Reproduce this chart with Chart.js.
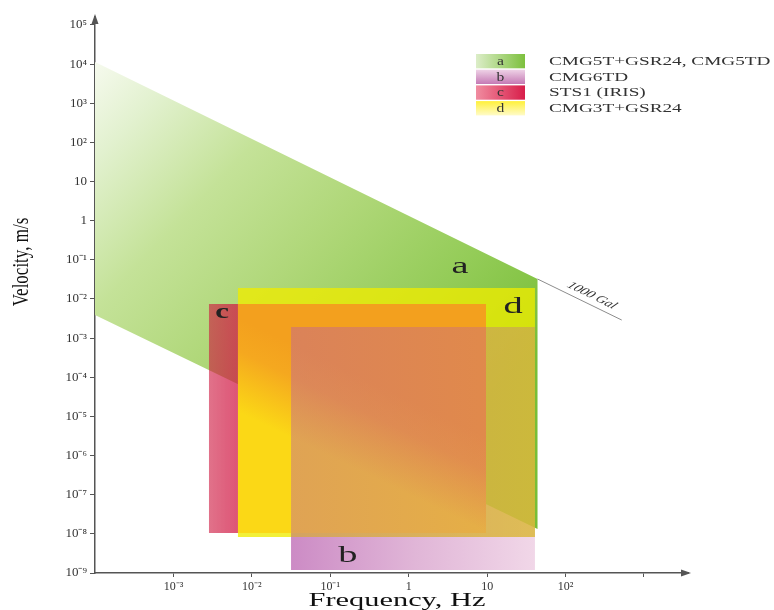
<!DOCTYPE html>
<html>
<head>
<meta charset="utf-8">
<script src="https://cdn.jsdelivr.net/npm/chart.js@4.4.1/dist/chart.umd.min.js"></script>
<style>
  html, body { margin: 0; padding: 0; background: #fff; }
</style>
</head>
<body>
<canvas id="chart" width="774" height="610"></canvas>
<script>
// Axis ticks
var xTicks = [1e-3, 1e-2, 1e-1, 1, 10, 100, 1000];
var xTickLabels = ['10⁻³', '10⁻²', '10⁻¹', '1', '10', '10²', ''];
var yTicks = [1e-9, 1e-8, 1e-7, 1e-6, 1e-5, 1e-4, 1e-3, 1e-2, 1e-1, 1, 10, 100, 1e3, 1e4, 1e5];
var yTickLabels = ['10⁻⁹', '10⁻⁸', '10⁻⁷', '10⁻⁶', '10⁻⁵', '10⁻⁴', '10⁻³', '10⁻²', '10⁻¹', '1', '10', '10²', '10³', '10⁴', '10⁵'];

// a: CMG5T+GSR24 band (corners: top-left, top-right, bottom-right, bottom-left)
var aFreq = [1e-4, 43.9, 43.9, 1e-4];
var aVel = [1.13e4, 0.0324, 1.33e-8, 3.9e-3];

// b, c, d: frequency range (Hz) and velocity range (m/s)
var bFreq = [0.0316, 40.7];
var bVel = [1.19e-9, 1.92e-3];
var cFreq = [2.84e-3, 9.67];
var cVel = [1.05e-8, 7.4e-3];
var dFreq = [6.65e-3, 40.7];
var dVel = [8.3e-9, 0.019];

// 1000 Gal line
var galFreq = [43.9, 520];
var galVel = [0.0324, 0.0029];

// letters on the plot
var letterText = ['a', 'b', 'c', 'd'];
var letterFreq = [4.5, 0.168, 4.16e-3, 21.4];
var letterVel = [0.046, 1.9e-9, 3.27e-3, 4.4e-3];

// legend
var legendLetters = ['a', 'b', 'c', 'd'];
var legendNames = ['CMG5T+GSR24, CMG5TD', 'CMG6TD', 'STS1 (IRIS)', 'CMG3T+GSR24'];

var SERIF = "'Liberation Serif', 'Times New Roman', serif";

function corners(fs, vs) {
  return fs.map(function (f, i) { return { x: f, y: vs[i] }; });
}
function rect(f, v) {
  return corners([f[0], f[1], f[1], f[0]], [v[1], v[1], v[0], v[0]]);
}
function overlap(p, q) {
  return [Math.max(p[0], q[0]), Math.min(p[1], q[1])];
}
function px(chart, f) { return chart.scales.x.getPixelForValue(f); }
function py(chart, v) { return chart.scales.y.getPixelForValue(v); }
function grad(c, x0, y0, x1, y1, stops) {
  var g = c.createLinearGradient(x0, y0, x1, y1);
  stops.forEach(function (s) { g.addColorStop(s[0], s[1]); });
  return g;
}

var cdFreq = overlap(cFreq, dFreq);
var cdVel = overlap(cVel, dVel);
var bdFreq = overlap(bFreq, dFreq);
var bdVel = overlap(bVel, dVel);

function area(data, order, color) {
  return {
    data: data, order: order, fill: 'shape', tension: 0,
    borderWidth: 0, borderColor: 'rgba(0,0,0,0)',
    pointRadius: 0, pointHoverRadius: 0,
    backgroundColor: function (ctx) {
      var ch = ctx.chart;
      if (!ch.chartArea) return 'rgba(0,0,0,0)';
      return color(ch, ch.ctx);
    }
  };
}

var datasets = [
  area(rect(bFreq, bVel), 7, function (ch, c) {
    return grad(c, px(ch, bFreq[0]), 0, px(ch, bFreq[1]), 0,
      [[0, '#cc8bc5'], [0.5, '#e0b5d7'], [1, '#f1d7e8']]);
  }),
  area(corners(aFreq, aVel), 6, function (ch, c) {
    var x0 = px(ch, aFreq[0]), y0 = py(ch, aVel[0]);
    var x1 = px(ch, aFreq[1]), y3 = py(ch, aVel[3]);
    return grad(c, x0, y0, x0 + 0.848 * (x1 - x0), y0 + 1.42 * (y3 - y0),
      [[0, '#f6faee'], [0.13, '#e2f1cf'], [0.33, '#c4e298'], [0.55, '#afd778'],
       [0.78, '#94cc58'], [1, '#78be37']]);
  }),
  area(rect(cFreq, cVel), 5, function (ch, c) {
    return grad(c, px(ch, cFreq[0]), 0, px(ch, dFreq[0]), 0,
      [[0, 'rgba(205,20,60,0.6)'], [1, 'rgba(210,25,70,0.74)']]);
  }),
  area(rect(dFreq, dVel), 4, function (ch, c) {
    return 'rgba(238,236,0,0.78)';
  }),
  area(rect(cdFreq, cdVel), 3, function (ch, c) {
    // orange above the lower edge of band a, yellow below it
    var x0 = px(ch, aFreq[3]), y0 = py(ch, aVel[3]);
    var x1 = px(ch, aFreq[2]), y1 = py(ch, aVel[2]);
    var len = Math.hypot(x1 - x0, y1 - y0);
    var nx = -(y1 - y0) / len, ny = (x1 - x0) / len;
    var mx = px(ch, cdFreq[0]), my = y0 + (mx - x0) * (y1 - y0) / (x1 - x0);
    return grad(c, mx - 60 * nx, my - 60 * ny, mx + 25 * nx, my + 25 * ny,
      [[0, '#f3a01e'], [0.35, '#f5a81f'], [1, '#fbd816']]);
  }),
  area(rect(bdFreq, bdVel), 2, function (ch, c) {
    return grad(c, px(ch, bdFreq[0]), 0, px(ch, bdFreq[1]), 0,
      [[0, 'rgba(185,90,170,0.42)'], [1, 'rgba(185,90,170,0.3)']]);
  }),
  {
    data: corners(galFreq, galVel), order: 1, fill: false, tension: 0,
    borderColor: '#8c8c8c', borderWidth: 1, pointRadius: 0, pointHoverRadius: 0
  }
];

function stretched(c, text, x, y, sx, align) {
  c.save();
  c.translate(x, y);
  c.scale(sx, 1);
  c.textAlign = align;
  c.fillText(text, 0, 0);
  c.restore();
}

var decor = {
  id: 'decor',
  afterDraw: function (chart) {
    var c = chart.ctx;
    var ca = chart.chartArea;
    c.save();

    // axis arrows
    c.fillStyle = '#555';
    c.beginPath();
    c.moveTo(ca.left, ca.top - 3);
    c.lineTo(ca.left - 3.5, ca.top + 7);
    c.lineTo(ca.left + 3.5, ca.top + 7);
    c.closePath();
    c.fill();
    c.beginPath();
    c.moveTo(ca.right + 3, ca.bottom);
    c.lineTo(ca.right - 7, ca.bottom - 3.5);
    c.lineTo(ca.right - 7, ca.bottom + 3.5);
    c.closePath();
    c.fill();

    // letters a-d
    c.fillStyle = '#222';
    c.textBaseline = 'alphabetic';
    letterText.forEach(function (t, i) {
      c.font = (t === 'c' ? 'bold 22px ' : '24px ') + SERIF;
      stretched(c, t, px(chart, letterFreq[i]), py(chart, letterVel[i]), t === 'c' ? 1.4 : 1.6, 'center');
    });

    // 1000 Gal label
    var gx0 = px(chart, galFreq[0]), gy0 = py(chart, galVel[0]);
    var gx1 = px(chart, galFreq[1]), gy1 = py(chart, galVel[1]);
    var gl = Math.hypot(gx1 - gx0, gy1 - gy0);
    var ux = (gx1 - gx0) / gl, uy = (gy1 - gy0) / gl;
    var tx = gx0 + 0.6 * (gx1 - gx0) + 9 * uy;
    var ty = gy0 + 0.6 * (gy1 - gy0) - 9 * ux;
    c.save();
    c.translate(tx, ty);
    c.scale(1.45, 1);
    c.rotate(Math.atan2(gy1 - gy0, (gx1 - gx0) / 1.45));
    c.font = 'italic 10.5px ' + SERIF;
    c.fillStyle = '#333';
    c.textAlign = 'center';
    c.textBaseline = 'middle';
    c.fillText('1000 Gal', 0, 0);
    c.restore();

    // legend
    var boxFills = [
      function (x, y, w, h) { return grad(c, x, 0, x + w, 0, [[0, '#dcedc8'], [1, '#7dc03e']]); },
      function (x, y, w, h) { return grad(c, 0, y, 0, y + h, [[0, '#eed2e6'], [1, '#c57ab5']]); },
      function (x, y, w, h) { return grad(c, x, 0, x + w, 0, [[0, '#f08ca0'], [1, '#d81e4a']]); },
      function (x, y, w, h) { return grad(c, 0, y, 0, y + h, [[0, '#fff03a'], [1, '#fffbc8']]); }
    ];
    var lx = 476, ly = 54, lw = 49, lh = 14.3, step = 15.7;
    legendLetters.forEach(function (t, i) {
      var y = ly + i * step;
      c.fillStyle = boxFills[i](lx, y, lw, lh);
      c.fillRect(lx, y, lw, lh);
      c.fillStyle = '#333';
      c.textBaseline = 'middle';
      c.font = '12px ' + SERIF;
      stretched(c, t, lx + lw / 2, y + lh / 2 + 0.5, 1.3, 'center');
      c.font = '13px ' + SERIF;
      stretched(c, legendNames[i], 549, y + lh / 2 + 0.5, 1.48, 'left');
    });

    // axis titles
    c.fillStyle = '#111';
    c.font = '19px ' + SERIF;
    c.textBaseline = 'alphabetic';
    stretched(c, 'Frequency, Hz', 397, 606, 1.6, 'center');

    c.save();
    c.translate(22, 262);
    c.scale(1.4, 1);
    c.rotate(-Math.PI / 2);
    c.font = '17px ' + SERIF;
    c.textAlign = 'center';
    c.textBaseline = 'middle';
    c.fillText('Velocity, m/s', 0, 0);
    c.restore();

    c.restore();
  }
};

var ctx = document.getElementById('chart').getContext('2d');

var myChart = new Chart(ctx, {
  type: 'line',
  data: { datasets: datasets },
  options: {
    responsive: false,
    animation: false,
    events: [],
    layout: { padding: { left: 0, top: 17, right: 86, bottom: 0 } },
    plugins: {
      legend: { display: false },
      tooltip: { enabled: false }
    },
    scales: {
      x: {
        type: 'logarithmic',
        min: 1e-4,
        max: 3640,
        bounds: 'data',
        afterBuildTicks: function (scale) {
          scale.ticks = xTicks.map(function (v) { return { value: v }; });
        },
        afterFit: function (scale) { scale.height = 37; },
        grid: { drawOnChartArea: false, drawTicks: true, tickLength: 4, color: '#555' },
        border: { color: '#555', width: 1.5 },
        ticks: {
          autoSkip: false, maxRotation: 0, padding: 3, color: '#333',
          font: { family: SERIF, size: 12 },
          callback: function (v, i) { return xTickLabels[i]; }
        }
      },
      y: {
        type: 'logarithmic',
        min: 1e-9,
        max: 1.6e5,
        bounds: 'data',
        afterBuildTicks: function (scale) {
          scale.ticks = yTicks.map(function (v) { return { value: v }; });
        },
        afterFit: function (scale) { scale.width = 95; },
        grid: { drawOnChartArea: false, drawTicks: true, tickLength: 5, color: '#555' },
        border: { color: '#555', width: 1.5 },
        ticks: {
          autoSkip: false, padding: 3, color: '#333',
          font: { family: SERIF, size: 13 },
          callback: function (v, i) { return yTickLabels[i]; }
        }
      }
    }
  },
  plugins: [decor]
});
</script>
</body>
</html>
